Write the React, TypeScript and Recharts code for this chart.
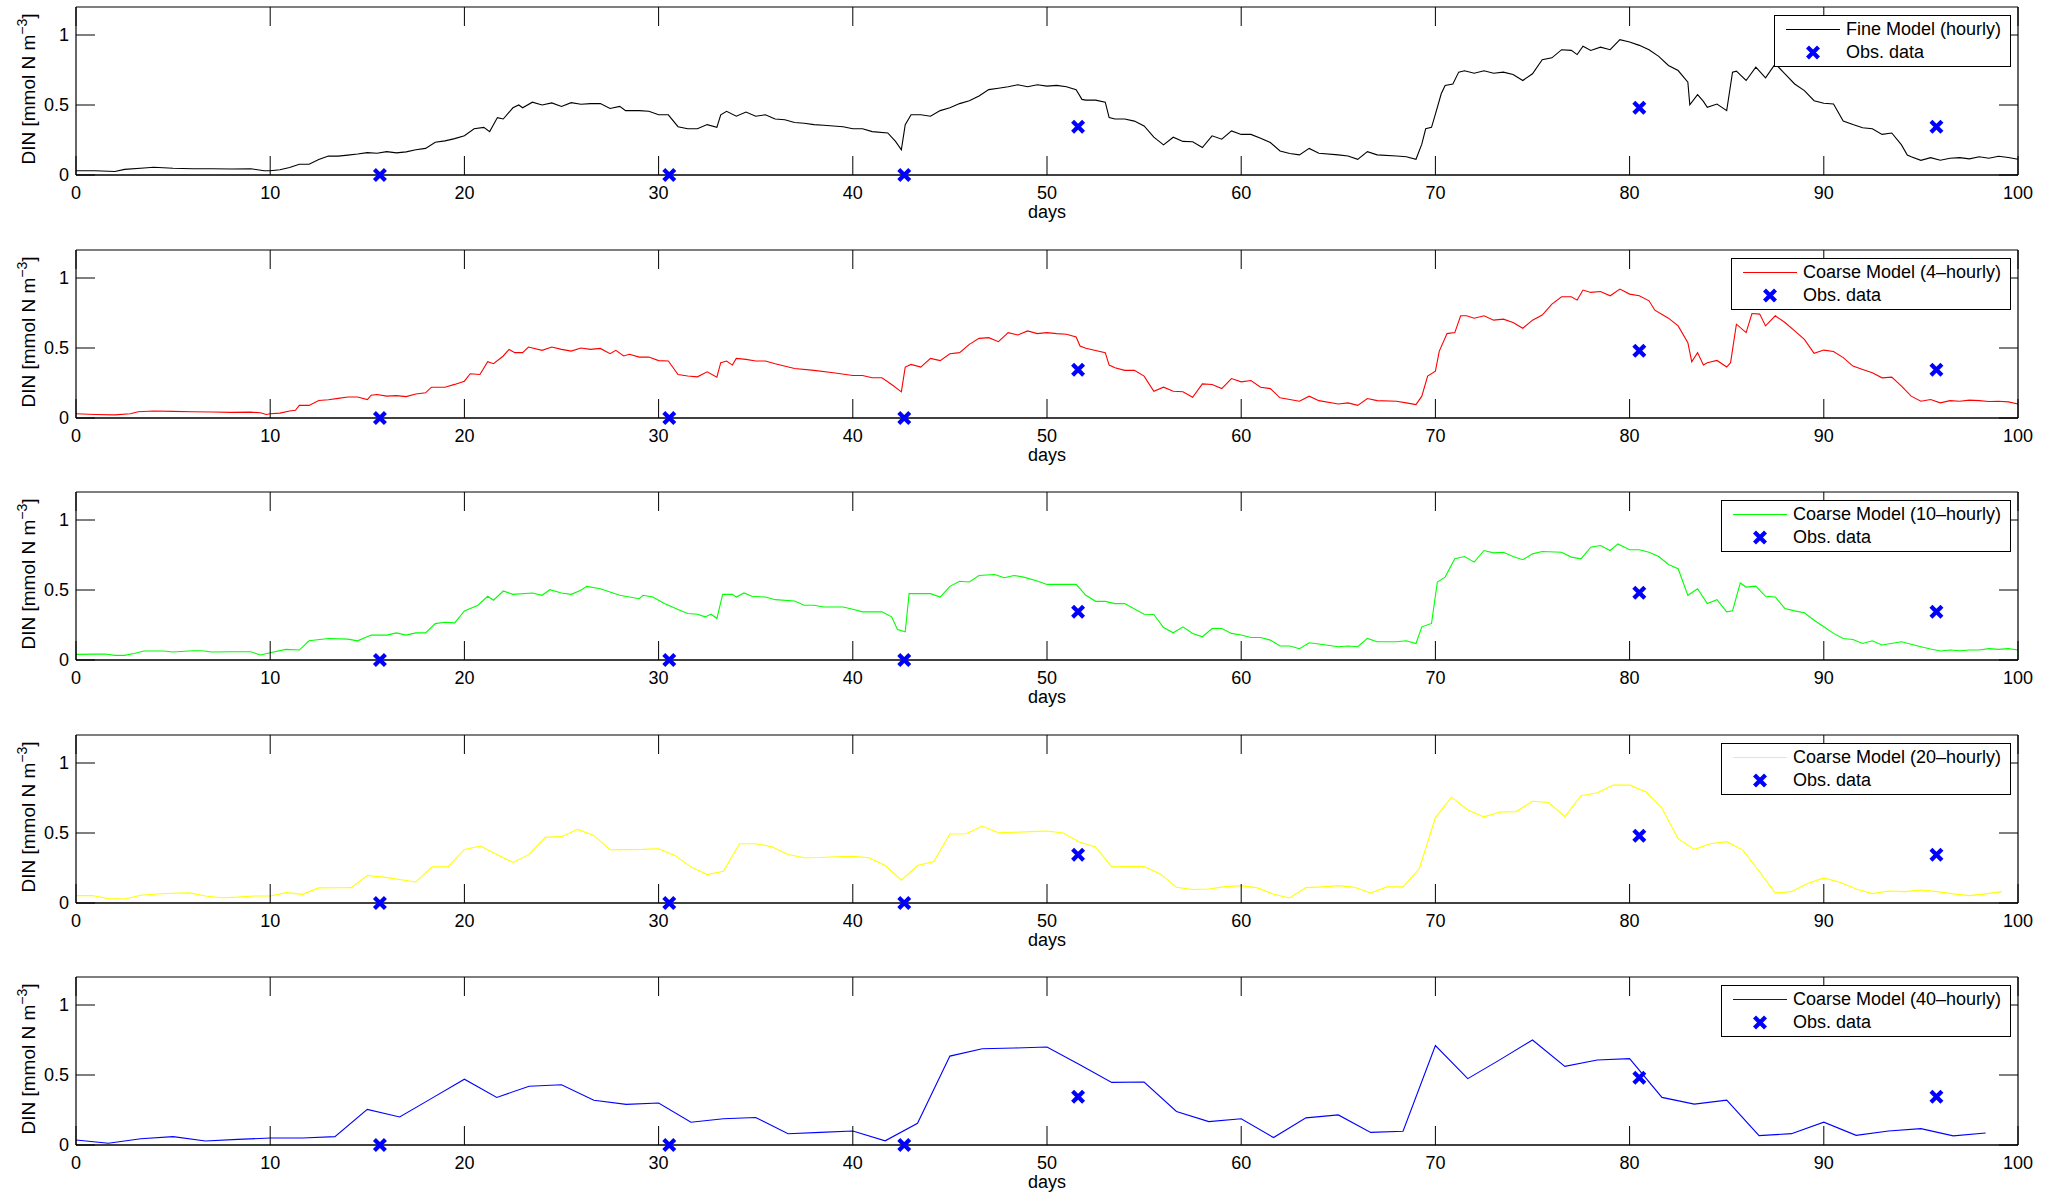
import { ComposedChart, Line, Scatter, XAxis, YAxis, Legend, Label } from "recharts";

const FONT = '"Liberation Sans", Arial, Helvetica, sans-serif';
const W = 2059;
const PANEL_H = 243;

const dayTicks = [0, 10, 20, 30, 40, 50, 60, 70, 80, 90, 100];
const dinTicks = [0, 0.5, 1];

// observations (days, DIN)
const obsDays = [15.65, 30.55, 42.65, 51.6, 80.5, 95.8];
const obsValues = [0, 0, 0, 0.345, 0.48, 0.345];

// fine model as [day, DIN]
const fineModel: [number, number][] = [
  [0, 0.03], [1, 0.03], [2, 0.025], [2.5, 0.04], [3.5, 0.05], [4, 0.055], [5, 0.048], [6, 0.045], [7, 0.045],
  [8, 0.043], [9, 0.045], [9.7, 0.03], [10, 0.03], [10.5, 0.038], [11, 0.053], [11.5, 0.077], [12, 0.077],
  [12.5, 0.11], [13, 0.135], [13.5, 0.135], [14, 0.142], [14.5, 0.15], [15, 0.16], [15.5, 0.155], [16, 0.167],
  [16.5, 0.158], [17, 0.165], [17.5, 0.18], [18, 0.19], [18.5, 0.234], [19, 0.244], [19.5, 0.26], [20, 0.28],
  [20.5, 0.33], [21, 0.34], [21.3, 0.31], [21.7, 0.41], [22, 0.4], [22.5, 0.48], [22.8, 0.5], [23, 0.48],
  [23.5, 0.52], [24, 0.5], [24.5, 0.515], [25, 0.49], [25.5, 0.517], [26, 0.505], [26.5, 0.51], [27, 0.51],
  [27.5, 0.475], [28, 0.49], [28.3, 0.46], [29, 0.46], [29.5, 0.455], [30, 0.43], [30.5, 0.43], [31, 0.345],
  [31.5, 0.33], [32, 0.33], [32.5, 0.36], [33, 0.34], [33.2, 0.43], [33.5, 0.455], [34, 0.42], [34.5, 0.45],
  [35, 0.42], [35.5, 0.43], [36, 0.4], [36.5, 0.395], [37, 0.375], [37.5, 0.37], [38, 0.36], [38.5, 0.355],
  [39, 0.35], [39.5, 0.345], [40, 0.33], [40.5, 0.33], [41, 0.31], [41.8, 0.3], [42.2, 0.24], [42.5, 0.18],
  [42.7, 0.36], [43, 0.43], [43.5, 0.43], [44, 0.42], [44.5, 0.46], [45, 0.48], [45.5, 0.51], [46, 0.53],
  [46.5, 0.565], [47, 0.61], [47.5, 0.62], [48, 0.63], [48.5, 0.645], [49, 0.63], [49.5, 0.645], [50, 0.635],
  [50.5, 0.64], [51, 0.63], [51.5, 0.61], [51.8, 0.54], [52, 0.535], [52.5, 0.535], [53, 0.52], [53.2, 0.41],
  [53.5, 0.4], [54, 0.4], [54.5, 0.385], [55, 0.35], [55.5, 0.27], [56, 0.215], [56.5, 0.27], [57, 0.24],
  [57.5, 0.237], [58, 0.196], [58.5, 0.28], [59, 0.256], [59.5, 0.315], [60, 0.29], [60.5, 0.29], [61, 0.263],
  [61.5, 0.232], [62, 0.172], [62.5, 0.153], [63, 0.144], [63.5, 0.19], [64, 0.155], [65, 0.144], [65.5, 0.136],
  [66, 0.112], [66.5, 0.167], [67, 0.144], [68, 0.136], [68.5, 0.13], [69, 0.112], [69.3, 0.22], [69.5, 0.33],
  [69.8, 0.34], [70, 0.435], [70.3, 0.58], [70.5, 0.64], [70.9, 0.65], [71.2, 0.735], [71.5, 0.745], [72, 0.727],
  [72.5, 0.745], [73, 0.727], [73.5, 0.735], [74, 0.718], [74.5, 0.675], [75, 0.723], [75.5, 0.823], [76, 0.837],
  [76.5, 0.895], [77, 0.89], [77.3, 0.86], [77.6, 0.92], [78, 0.89], [78.5, 0.913], [79, 0.895], [79.5, 0.967],
  [80, 0.95], [80.5, 0.926], [81, 0.895], [81.5, 0.847], [82, 0.782], [82.5, 0.746], [83, 0.663], [83.1, 0.502],
  [83.5, 0.574], [83.8, 0.526], [84, 0.483], [84.5, 0.507], [85, 0.46], [85.3, 0.734], [85.5, 0.742], [86, 0.675],
  [86.5, 0.77], [87, 0.694], [87.5, 0.794], [88, 0.723], [88.5, 0.65], [89, 0.603], [89.5, 0.531], [90, 0.512],
  [90.5, 0.507], [91, 0.385], [91.5, 0.36], [92, 0.337], [92.5, 0.33], [93, 0.29], [93.5, 0.3], [94, 0.215],
  [94.3, 0.143], [94.5, 0.13], [95, 0.105], [95.5, 0.124], [96, 0.105], [96.5, 0.12], [97, 0.124], [97.5, 0.115],
  [98, 0.13], [98.5, 0.12], [99, 0.134], [99.5, 0.125], [100, 0.112],
];

// coarse model, 4-hourly output, read as [day, DIN]
const coarse4h: [number, number][] = [
  [0, 0.03], [1, 0.025], [2, 0.022], [2.8, 0.03], [3.2, 0.045], [4, 0.05], [5, 0.047], [6, 0.045], [7, 0.043],
  [8, 0.04], [9, 0.042], [9.5, 0.037], [9.8, 0.025], [10, 0.03], [10.5, 0.035], [11, 0.05], [11.3, 0.055],
  [11.5, 0.09], [12, 0.09], [12.5, 0.125], [13, 0.13], [13.5, 0.14], [14, 0.15], [14.5, 0.15], [15, 0.132],
  [15.2, 0.163], [15.5, 0.168], [16, 0.156], [16.5, 0.16], [17, 0.153], [17.5, 0.172], [18, 0.18], [18.3, 0.22],
  [19, 0.22], [19.5, 0.24], [20, 0.263], [20.3, 0.316], [20.8, 0.311], [21.2, 0.402], [21.5, 0.388], [22, 0.443],
  [22.3, 0.49], [22.6, 0.467], [23, 0.467], [23.3, 0.507], [24, 0.483], [24.5, 0.507], [25, 0.49], [25.5, 0.478],
  [26, 0.5], [26.5, 0.49], [27, 0.497], [27.5, 0.459], [27.8, 0.483], [28.2, 0.443], [28.5, 0.455], [29, 0.435],
  [29.5, 0.435], [30, 0.41], [30.5, 0.407], [31, 0.31], [31.5, 0.3], [32, 0.294], [32.5, 0.33], [33, 0.292],
  [33.2, 0.395], [33.5, 0.407], [33.8, 0.378], [34, 0.426], [34.5, 0.419], [35, 0.407], [35.5, 0.407], [36, 0.388],
  [37, 0.354], [38, 0.34], [39, 0.323], [40, 0.304], [40.5, 0.304], [41, 0.287], [41.5, 0.287], [42, 0.239],
  [42.5, 0.187], [42.7, 0.364], [43, 0.383], [43.5, 0.364], [44, 0.426], [44.5, 0.41], [45, 0.459], [45.5, 0.467],
  [46, 0.526], [46.5, 0.569], [47, 0.574], [47.5, 0.545], [48, 0.61], [48.5, 0.593], [49, 0.622], [49.5, 0.603],
  [50, 0.61], [50.5, 0.603], [51, 0.598], [51.5, 0.579], [51.7, 0.514], [52, 0.498], [53, 0.467], [53.2, 0.378],
  [53.5, 0.359], [54, 0.34], [54.5, 0.34], [55, 0.299], [55.5, 0.191], [56, 0.22], [56.5, 0.191], [57, 0.187],
  [57.5, 0.148], [58, 0.244], [58.5, 0.239], [59, 0.21], [59.5, 0.282], [60, 0.258], [60.5, 0.268], [61, 0.22],
  [61.5, 0.21], [62, 0.144], [62.5, 0.132], [63, 0.12], [63.5, 0.156], [64, 0.124], [65, 0.1], [65.5, 0.108],
  [66, 0.09], [66.5, 0.139], [67, 0.124], [68, 0.12], [68.5, 0.108], [69, 0.096], [69.3, 0.156], [69.6, 0.299],
  [70, 0.335], [70.2, 0.478], [70.6, 0.603], [71, 0.61], [71.3, 0.73], [71.6, 0.73], [72, 0.713], [72.5, 0.73],
  [73, 0.699], [73.5, 0.706], [74, 0.682], [74.5, 0.641], [75, 0.699], [75.5, 0.735], [76, 0.813], [76.5, 0.866],
  [77, 0.866], [77.3, 0.842], [77.6, 0.914], [78, 0.897], [78.5, 0.904], [79, 0.873], [79.5, 0.921], [80, 0.885],
  [80.5, 0.873], [81, 0.837], [81.3, 0.77], [82, 0.713], [82.5, 0.658], [83, 0.538], [83.2, 0.402], [83.5, 0.467],
  [83.8, 0.378], [84, 0.395], [84.5, 0.411], [85, 0.364], [85.2, 0.395], [85.5, 0.67], [86, 0.61], [86.3, 0.746],
  [86.7, 0.742], [87, 0.658], [87.5, 0.73], [88, 0.682], [88.5, 0.622], [89, 0.562], [89.5, 0.462], [90, 0.485],
  [90.5, 0.475], [91, 0.431], [91.5, 0.371], [92, 0.347], [92.5, 0.323], [93, 0.287], [93.5, 0.292], [94, 0.227],
  [94.5, 0.156], [95, 0.12], [95.5, 0.132], [96, 0.108], [96.5, 0.124], [97, 0.12], [97.5, 0.128], [98, 0.124],
  [98.5, 0.118], [99, 0.12], [99.5, 0.115], [100, 0.1],
];

// coarse model, 10-hourly output, read as [day, DIN]
const coarse10h: [number, number][] = [
  [0, 0.04], [1, 0.042], [1.5, 0.043], [2, 0.033], [2.5, 0.033], [3, 0.047], [3.5, 0.064], [4.5, 0.064],
  [5, 0.057], [6, 0.066], [6.5, 0.066], [7, 0.057], [8, 0.059], [9, 0.059], [9.5, 0.036], [10, 0.052],
  [10.8, 0.076], [11.5, 0.071], [12, 0.137], [13, 0.154], [14, 0.149], [14.5, 0.137], [15.2, 0.178], [16, 0.178],
  [16.5, 0.194], [17, 0.178], [17.5, 0.194], [18, 0.194], [18.5, 0.26], [19, 0.27], [19.5, 0.265], [20, 0.35],
  [20.7, 0.391], [21.2, 0.455], [21.5, 0.427], [22, 0.493], [22.5, 0.469], [23.5, 0.479], [24, 0.462],
  [24.4, 0.502], [25, 0.479], [25.5, 0.469], [26, 0.498], [26.3, 0.526], [27, 0.509], [28, 0.462], [29, 0.438],
  [29.2, 0.462], [29.7, 0.45], [30.3, 0.403], [31, 0.36], [31.5, 0.332], [32, 0.327], [32.4, 0.308], [32.7, 0.327],
  [33, 0.296], [33.3, 0.469], [33.8, 0.469], [34, 0.45], [34.4, 0.479], [34.8, 0.455], [35.5, 0.45], [36, 0.431],
  [37, 0.422], [37.5, 0.391], [38, 0.391], [38.5, 0.379], [39.5, 0.379], [40, 0.363], [40.5, 0.344], [41.5, 0.344],
  [42, 0.308], [42.3, 0.218], [42.7, 0.201], [42.9, 0.474], [43.5, 0.474], [44, 0.474], [44.5, 0.45], [45, 0.526],
  [45.5, 0.562], [46, 0.557], [46.5, 0.604], [47.3, 0.611], [47.8, 0.588], [48.3, 0.604], [48.8, 0.592],
  [49.5, 0.565], [50, 0.54], [50.5, 0.54], [51.5, 0.54], [52, 0.462], [52.5, 0.419], [53, 0.419], [53.5, 0.403],
  [54, 0.403], [55, 0.327], [55.5, 0.325], [56, 0.232], [56.5, 0.194], [57, 0.237], [57.5, 0.19], [58, 0.166],
  [58.5, 0.225], [59, 0.225], [59.5, 0.19], [60, 0.178], [60.5, 0.161], [61, 0.161], [61.5, 0.142], [62, 0.1],
  [62.5, 0.1], [63, 0.081], [63.5, 0.123], [64, 0.114], [65, 0.095], [65.5, 0.1], [66, 0.095], [66.5, 0.154],
  [67, 0.13], [68, 0.13], [68.5, 0.137], [69, 0.118], [69.3, 0.237], [69.8, 0.261], [70.1, 0.557], [70.5, 0.592],
  [71, 0.723], [71.5, 0.739], [72, 0.699], [72.5, 0.782], [73, 0.765], [73.5, 0.77], [74, 0.739], [74.5, 0.716],
  [75, 0.758], [75.5, 0.775], [76.5, 0.77], [77, 0.735], [77.5, 0.723], [78, 0.806], [78.5, 0.818], [79, 0.782],
  [79.4, 0.829], [80, 0.787], [80.5, 0.787], [81, 0.77], [81.5, 0.739], [82, 0.682], [82.5, 0.652], [83, 0.462],
  [83.5, 0.509], [84, 0.403], [84.5, 0.431], [85, 0.344], [85.3, 0.351], [85.7, 0.55], [86, 0.521], [86.5, 0.528],
  [87, 0.455], [87.5, 0.45], [88, 0.367], [88.5, 0.351], [89, 0.337], [89.5, 0.284], [90, 0.237], [90.5, 0.19],
  [91, 0.154], [91.5, 0.147], [92, 0.118], [92.5, 0.137], [93, 0.107], [94, 0.13], [95, 0.095], [95.5, 0.078],
  [96, 0.064], [96.5, 0.071], [97, 0.066], [97.5, 0.071], [98, 0.071], [98.5, 0.081], [99, 0.076], [99.5, 0.081],
  [100, 0.071],
];

// coarse model, 20-hourly output: one value per output step (step = 20 h)
const coarse20hStepDays = 20 / 24;
const coarse20hValues = [
  0.053, 0.053, 0.031, 0.029, 0.055, 0.064, 0.07, 0.072, 0.05, 0.037, 0.042, 0.05, 0.05, 0.074, 0.062, 0.108,
  0.109, 0.11, 0.196, 0.185, 0.168, 0.15, 0.258, 0.26, 0.383, 0.407, 0.347, 0.29, 0.347, 0.469, 0.474, 0.526,
  0.483, 0.38, 0.381, 0.383, 0.388, 0.34, 0.258, 0.203, 0.227, 0.423, 0.423, 0.402, 0.347, 0.323, 0.325, 0.33,
  0.333, 0.323, 0.268, 0.163, 0.268, 0.297, 0.493, 0.495, 0.55, 0.502, 0.505, 0.51, 0.514, 0.5, 0.435, 0.4,
  0.258, 0.26, 0.26, 0.208, 0.112, 0.096, 0.1, 0.117, 0.124, 0.108, 0.062, 0.036, 0.11, 0.115, 0.124, 0.112,
  0.072, 0.115, 0.115, 0.244, 0.61, 0.756, 0.665, 0.615, 0.65, 0.653, 0.727, 0.718, 0.617, 0.766, 0.787, 0.842,
  0.842, 0.794, 0.677, 0.459, 0.383, 0.423, 0.438, 0.378, 0.227, 0.072, 0.081, 0.139, 0.179, 0.148, 0.1, 0.067,
  0.086, 0.081, 0.093, 0.081, 0.065, 0.053, 0.065, 0.081,
];

// coarse model, 40-hourly output (step = 40 h)
const coarse40hStepDays = 40 / 24;
const coarse40hValues = [
  0.036, 0.012, 0.045, 0.06, 0.029, 0.04, 0.05, 0.05, 0.06, 0.254, 0.2, 0.335, 0.47, 0.34, 0.42, 0.43, 0.32,
  0.29, 0.3, 0.163, 0.187, 0.196, 0.08, 0.09, 0.1, 0.03, 0.155, 0.635, 0.687, 0.693, 0.7, 0.575, 0.447, 0.45,
  0.24, 0.167, 0.187, 0.053, 0.194, 0.215, 0.09, 0.098, 0.71, 0.474, 0.61, 0.75, 0.562, 0.607, 0.617, 0.34,
  0.292, 0.32, 0.067, 0.081, 0.163, 0.069, 0.1, 0.117, 0.065, 0.086,
];

const fromPairs = (pairs: [number, number][]) => pairs.map(([day, v]) => ({ day, v }));
const fromSteps = (values: number[], step: number) => values.map((v, i) => ({ day: i * step, v }));
const obsData = obsDays.map((day, i) => ({ day, v: obsValues[i] }));

const panels = [
  { label: "Fine Model (hourly)", color: "#000000", data: fromPairs(fineModel) },
  { label: "Coarse Model (4\u2013hourly)", color: "#ff0000", data: fromPairs(coarse4h) },
  { label: "Coarse Model (10\u2013hourly)", color: "#00ff00", data: fromPairs(coarse10h) },
  { label: "Coarse Model (20\u2013hourly)", color: "#ffff00", data: fromSteps(coarse20hValues, coarse20hStepDays) },
  { label: "Coarse Model (40\u2013hourly)", color: "#0000ff", data: fromSteps(coarse40hValues, coarse40hStepDays) },
];

const TICK_LEN = 19;

const BottomTick = (p: any) => (
  <g>
    <line x1={p.x} x2={p.x} y1={p.y} y2={p.y - TICK_LEN} stroke="#000" strokeWidth={1} />
    <text x={p.x} y={p.y + 24} textAnchor="middle" fontSize={18} fontFamily={FONT} fill="#000">
      {p.payload.value}
    </text>
  </g>
);
const TopTick = (p: any) => (
  <line x1={p.x} x2={p.x} y1={p.y} y2={p.y + TICK_LEN} stroke="#000" strokeWidth={1} />
);
const LeftTick = (p: any) => (
  <g>
    <line x1={p.x} x2={p.x + TICK_LEN} y1={p.y} y2={p.y} stroke="#000" strokeWidth={1} />
    <text x={p.x - 7} y={p.y} dy="0.36em" textAnchor="end" fontSize={18} fontFamily={FONT} fill="#000">
      {p.payload.value}
    </text>
  </g>
);
const RightTick = (p: any) => (
  <line x1={p.x} x2={p.x - TICK_LEN} y1={p.y} y2={p.y} stroke="#000" strokeWidth={1} />
);

const ObsMarker = (p: any) => {
  const { cx, cy } = p;
  const r = 5.5;
  return (
    <path
      d={`M${cx - r},${cy - r}L${cx + r},${cy + r}M${cx - r},${cy + r}L${cx + r},${cy - r}`}
      stroke="#0000ff"
      strokeWidth={4.2}
      fill="none"
    />
  );
};

const DaysLabel = (p: any) => {
  const vb = p.viewBox;
  return (
    <text x={vb.x + vb.width / 2} y={vb.y + 43} textAnchor="middle" fontSize={18} fontFamily={FONT} fill="#000">
      days
    </text>
  );
};

const DinLabel = (p: any) => {
  const vb = p.viewBox;
  const cx = 35;
  const cy = vb.y + vb.height / 2 - 2;
  return (
    <text
      x={cx}
      y={cy}
      transform={`rotate(-90, ${cx}, ${cy})`}
      textAnchor="middle"
      fontSize={19}
      fontFamily={FONT}
      fill="#000"
    >
      DIN [mmol N m
      <tspan dy={-8} fontSize={14}>
        {"\u22123"}
      </tspan>
      <tspan dy={8}>]</tspan>
    </text>
  );
};

function PanelLegend({ label, color }: { label: string; color: string }) {
  const row = { display: "flex", alignItems: "center", height: 23 };
  return (
    <div
      style={{
        border: "1.5px solid #000",
        background: "#fff",
        padding: "2px 9px 2px 11px",
        fontFamily: FONT,
        fontSize: 18,
        color: "#000",
        whiteSpace: "nowrap",
      }}
    >
      <div style={row}>
        <svg width={54} height={23}>
          <line x1={0} x2={54} y1={11.5} y2={11.5} stroke={color} strokeWidth={1.2} />
        </svg>
        <span style={{ marginLeft: 6 }}>{label}</span>
      </div>
      <div style={row}>
        <svg width={54} height={23}>
          <ObsMarker cx={27} cy={11.5} />
        </svg>
        <span style={{ marginLeft: 6 }}>Obs. data</span>
      </div>
    </div>
  );
}

function Panel({ label, color, data, top }: { label: string; color: string; data: { day: number; v: number }[]; top: number }) {
  return (
    <div style={{ position: "absolute", left: 0, top }}>
      <ComposedChart width={W} height={PANEL_H} margin={{ top: 6, right: 40, bottom: 0, left: 75 }}>
        <XAxis
          xAxisId="b"
          type="number"
          dataKey="day"
          domain={[0, 100]}
          ticks={dayTicks}
          interval={0}
          height={68}
          tickSize={0}
          tickMargin={0}
          tickLine={false}
          tick={(p: any) => <BottomTick {...p} />}
          axisLine={{ stroke: "#000", strokeWidth: 1.6 }}
        >
          <Label content={DaysLabel} />
        </XAxis>
        <XAxis
          xAxisId="t"
          orientation="top"
          type="number"
          dataKey="day"
          domain={[0, 100]}
          ticks={dayTicks}
          interval={0}
          height={1}
          tickSize={0}
          tickMargin={0}
          tickLine={false}
          tick={(p: any) => <TopTick {...p} />}
          axisLine={{ stroke: "#000", strokeWidth: 1.2 }}
        />
        <YAxis
          yAxisId="l"
          type="number"
          domain={[0, 1.2]}
          ticks={dinTicks}
          interval={0}
          width={1}
          tickSize={0}
          tickMargin={0}
          tickLine={false}
          tick={(p: any) => <LeftTick {...p} />}
          axisLine={{ stroke: "#000", strokeWidth: 1.2 }}
        >
          <Label content={DinLabel} />
        </YAxis>
        <YAxis
          yAxisId="r"
          orientation="right"
          type="number"
          domain={[0, 1.2]}
          ticks={dinTicks}
          interval={0}
          width={1}
          tickSize={0}
          tickMargin={0}
          tickLine={false}
          tick={(p: any) => <RightTick {...p} />}
          axisLine={{ stroke: "#000", strokeWidth: 1.2 }}
        />
        <Line
          xAxisId="b"
          yAxisId="l"
          data={data}
          dataKey="v"
          type="linear"
          stroke={color}
          strokeWidth={1.1}
          dot={false}
          activeDot={false}
          isAnimationActive={false}
        />
        {/* same series on the top/right axes, invisible, so those frame axes get a scale */}
        <Line
          xAxisId="t"
          yAxisId="r"
          data={data}
          dataKey="v"
          type="linear"
          stroke="none"
          dot={false}
          activeDot={false}
          legendType="none"
          isAnimationActive={false}
        />
        <Scatter
          xAxisId="b"
          yAxisId="l"
          data={obsData}
          dataKey="v"
          shape={ObsMarker}
          isAnimationActive={false}
        />
        <Legend
          layout="horizontal"
          verticalAlign="middle"
          align="center"
          wrapperStyle={{ top: 15, right: 48, left: "auto", width: "auto", height: "auto" }}
          content={() => <PanelLegend label={label} color={color} />}
        />
      </ComposedChart>
    </div>
  );
}

export default function App() {
  return (
    <div style={{ position: "absolute", left: 0, top: 0, width: W, height: 1196, background: "#fff" }}>
      {panels.map((p, i) => (
        <Panel key={p.label} label={p.label} color={p.color} data={p.data} top={Math.round(242.6 * i)} />
      ))}
    </div>
  );
}
